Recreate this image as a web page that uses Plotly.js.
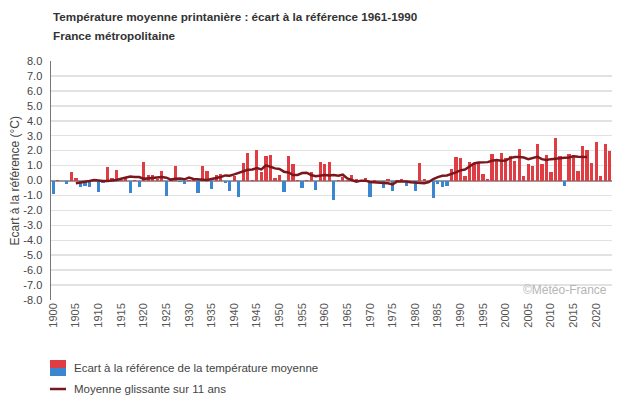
<!DOCTYPE html>
<html>
<head>
<meta charset="utf-8">
<script src="https://cdn.plot.ly/plotly-3.0.1.min.js"></script>
<style>html,body{margin:0;padding:0;background:#fff;}#chart{width:630px;height:405px;}</style>
</head>
<body>
<div id="chart"></div>
<script>
// Years 1900-2023
const firstYear = 1900;
const anomalies = [
  -0.9, 0.02, -0.02, -0.22, 0.55, 0.16, -0.44, -0.35, -0.42, 0.03,
  -0.75, -0.15, 0.9, 0.16, 0.7, 0.03, 0.15, -0.82, 0.05, -0.42,
  1.22, 0.35, 0.35, 0.1, 0.62, -1.02, 0.04, 0.95, -0.13, -0.22,
  0.03, 0.04, -0.82, 0.95, 0.62, -0.55, 0.35, 0.42, -0.15, -0.68,
  0.33, -1.1, 1.15, 1.82, 0.05, 2.02, 0.55, 1.62, 1.68, 0.16,
  0.35, -0.75, 1.62, 1.08, 0.03, -0.48, 0.04, 0.55, -0.62, 1.22,
  1.08, 1.22, -1.29, 0.03, 0.25, 0.02, 0.35, 0.07, 0.02, 0.16,
  -1.1, 0.02, -0.03, -0.48, 0.09, -0.68, 0.03, 0.09, -0.35, -0.08,
  -0.68, 1.15, 0.09, -0.04, -1.15, -0.22, -0.42, -0.35, 0.75, 1.55,
  1.5, 0.29, 1.22, 1.08, 1.22, 0.42, 0.1, 1.75, 1.42, 1.82,
  1.5, 1.62, 1.29, 2.1, 0.3, 1.1, 0.95, 2.43, 1.1, 1.7,
  0.57, 2.83, 1.63, -0.37, 1.77, 1.7, 0.63, 2.3, 2.03, 1.17,
  2.57, 0.3, 2.43, 1.97
];
// 11-year moving average, 1905-2018
const maFirstYear = 1905;
const movingAvg = [
  -0.19, -0.12, -0.08, -0.03, 0.03,
  -0.01, -0.03, -0.03, 0, 0.03, 0.12, 0.19, 0.26, 0.23, 0.23,
  0.11, 0.14, 0.19, 0.21, 0.23, 0.19, 0.06, 0.12, 0.14, 0.08,
  0.19, 0.1, 0.08, 0.08, 0.03, 0.1, 0.14, 0.23, 0.34, 0.32,
  0.41, 0.53, 0.63, 0.72, 0.74, 0.83, 0.74, 1.01, 0.92, 0.81,
  0.77, 0.59, 0.54, 0.37, 0.37, 0.5, 0.52, 0.37, 0.28, 0.3,
  0.37, 0.33, 0.37, 0.32, 0.39, 0.14, 0.03, -0.08, -0.01, -0.01,
  -0.1, -0.12, -0.12, -0.14, -0.19, -0.26, -0.06, -0.06, -0.06, -0.12,
  -0.14, -0.17, -0.18, -0.1, 0.1, 0.23, 0.32, 0.34, 0.43, 0.54,
  0.68, 0.74, 0.94, 1.14, 1.21, 1.21, 1.23, 1.32, 1.37, 1.32,
  1.34, 1.5, 1.57, 1.57, 1.54, 1.43, 1.52, 1.59, 1.43, 1.37,
  1.43, 1.46, 1.54, 1.52, 1.54, 1.63, 1.59, 1.59, 1.57
];
const xTickVals = [1900,1905,1910,1915,1920,1925,1930,1935,1940,1945,1950,1955,1960,1965,1970,1975,1980,1985,1990,1995,2000,2005,2010,2015,2020];
const yTickVals = [8,7,6,5,4,3,2,1,0,-1,-2,-3,-4,-5,-6,-7,-8];

const years = anomalies.map((_, i) => firstYear + i);
const maYears = movingAvg.map((_, i) => maFirstYear + i);

const RED = '#e03c43', BLUE = '#3a86d0', LINE = '#7a171c';
const barColors = anomalies.map(v => v >= 0 ? RED : BLUE);

const font = "'Liberation Sans', Arial, sans-serif";

const traces = [
  {type: 'bar', x: years, y: anomalies, marker: {color: barColors, line: {width: 0}}, width: 0.72, hoverinfo: 'x+y', showlegend: false},
  {type: 'scatter', mode: 'lines', x: maYears, y: movingAvg, line: {color: LINE, width: 2.5, shape: 'linear'}, showlegend: false}
];

// paper-coordinate helpers (plot area 51..612 x 61..300 px)
const px = v => (v - 51) / 561;
const py = v => (300 - v) / 239;

const layout = {
  width: 630, height: 405,
  margin: {l: 51, r: 18, t: 61, b: 105},
  paper_bgcolor: '#fff', plot_bgcolor: '#fff',
  showlegend: false,
  bargap: 0,
  font: {family: font, color: '#444', size: 11},
  xaxis: {
    range: [1899.5, 2023.5], tickvals: xTickVals, ticktext: xTickVals.map(String),
    tickangle: -90, tickfont: {size: 11, color: '#555', family: font},
    showgrid: false, zeroline: false, showline: false, ticks: '', fixedrange: true
  },
  yaxis: {
    range: [-8, 8], tickvals: yTickVals, ticktext: yTickVals.map(v => v.toFixed(1)),
    tickfont: {size: 11, color: '#444', family: font},
    ticklabelstandoff: 5,
    showgrid: true, gridcolor: '#e2e2e2', gridwidth: 1.5,
    zeroline: true, zerolinecolor: '#9a9a9a', zerolinewidth: 2,
    showline: true, linecolor: '#777', linewidth: 1.5, ticks: '', ticklen: 0,
    fixedrange: true
  },
  shapes: [
    {type: 'rect', xref: 'paper', yref: 'paper', x0: px(50), x1: px(66), y0: py(368), y1: py(360), fillcolor: RED, line: {width: 0}},
    {type: 'rect', xref: 'paper', yref: 'paper', x0: px(50), x1: px(66), y0: py(376), y1: py(368), fillcolor: BLUE, line: {width: 0}},
    {type: 'line', xref: 'paper', yref: 'paper', x0: px(50), x1: px(66), y0: py(389), y1: py(389), line: {color: LINE, width: 2.5}}
  ],
  annotations: [
    {xref: 'paper', yref: 'paper', x: px(51), y: py(17), xanchor: 'left', yanchor: 'middle', showarrow: false,
     text: '<b>Température moyenne printanière : écart à la référence 1961-1990</b>', font: {family: font, size: 11.7, color: '#333'}},
    {xref: 'paper', yref: 'paper', x: px(51), y: py(35), xanchor: 'left', yanchor: 'middle', showarrow: false,
     text: '<b>France métropolitaine</b>', font: {family: font, size: 11.7, color: '#333'}},
    {xref: 'paper', yref: 'paper', x: px(14), y: 0.5, xanchor: 'center', yanchor: 'middle', showarrow: false, textangle: -90,
     text: 'Ecart à la référence (°C)', font: {family: font, size: 12, color: '#444'}},
    {xref: 'paper', yref: 'paper', x: px(609), y: py(290), xanchor: 'right', yanchor: 'middle', showarrow: false,
     text: '©Météo-France', font: {family: font, size: 12, color: '#b5b5b5'}},
    {xref: 'paper', yref: 'paper', x: px(72), y: py(368), xanchor: 'left', yanchor: 'middle', showarrow: false,
     text: 'Ecart à la référence de la température moyenne', font: {family: font, size: 11.5, color: '#444'}},
    {xref: 'paper', yref: 'paper', x: px(72), y: py(389), xanchor: 'left', yanchor: 'middle', showarrow: false,
     text: 'Moyenne glissante sur 11 ans', font: {family: font, size: 11.5, color: '#444'}}
  ]
};

Plotly.newPlot('chart', traces, layout, {displayModeBar: false, staticPlot: true});
</script>
</body>
</html>
